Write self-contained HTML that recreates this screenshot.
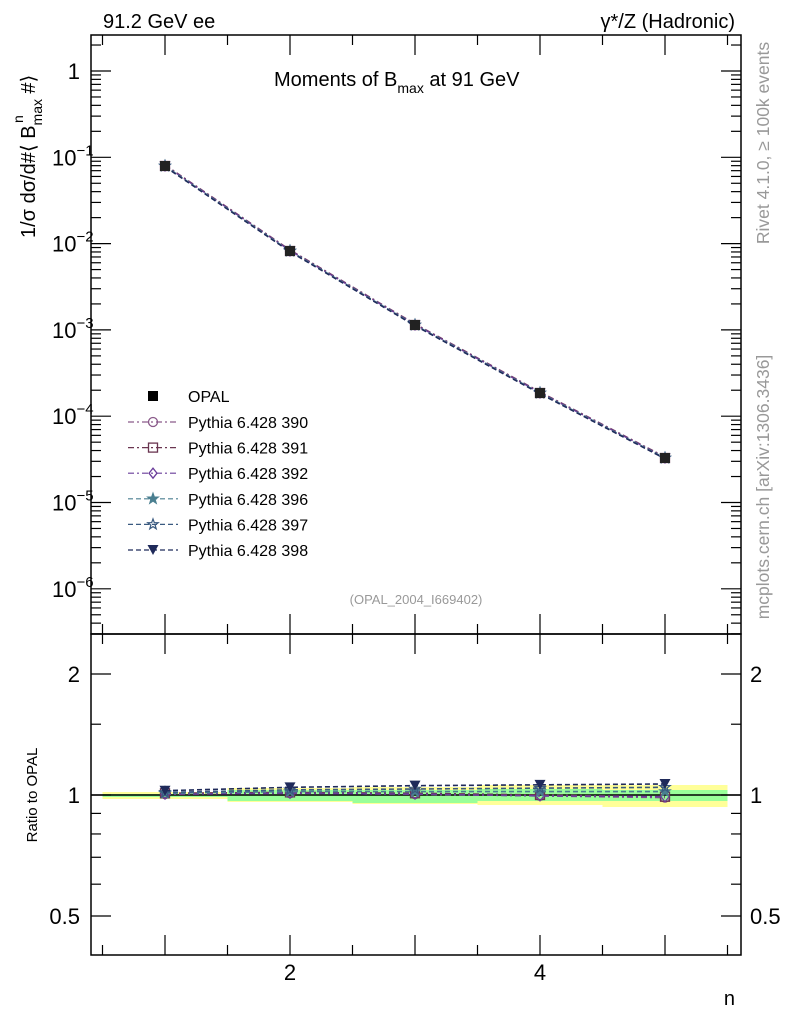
<!DOCTYPE html>
<html><head><meta charset="utf-8"><style>
html,body{margin:0;padding:0;background:#fff;}
svg{display:block;font-family:"Liberation Sans",sans-serif;}
</style></head><body>
<svg id="s" width="786" height="1024" xmlns="http://www.w3.org/2000/svg">
<rect width="786" height="1024" fill="#fff"/>
<g id="bands"></g>
<g id="ticks" stroke="#000" stroke-width="1.2"></g>
<rect x="91" y="35" width="650" height="599" fill="none" stroke="#000" stroke-width="1.5"/>
<rect x="91" y="634" width="650" height="321" fill="none" stroke="#000" stroke-width="1.5"/>
<line x1="91" y1="795" x2="741" y2="795" stroke="#000" stroke-width="1.5"/>
<g id="series"></g>
<text x="103" y="28" font-size="20">91.2 GeV ee</text>
<text x="735" y="28" font-size="20" text-anchor="end">γ*/Z (Hadronic)</text>
<text x="274" y="86" font-size="20">Moments of B<tspan font-size="14" dy="7">max</tspan><tspan dy="-7"> at 91 GeV</tspan></text>
<text x="416" y="604" font-size="13" fill="#999" text-anchor="middle">(OPAL_2004_I669402)</text>
<text transform="translate(769,143) rotate(-90)" font-size="17.5" fill="#999" text-anchor="middle">Rivet 4.1.0, ≥ 100k events</text>
<text transform="translate(769,487) rotate(-90)" font-size="17.5" fill="#999" text-anchor="middle">mcplots.cern.ch [arXiv:1306.3436]</text>
<text transform="translate(35,238) rotate(-90)" font-size="20">1/σ   dσ/d#⟨ B<tspan font-size="14" dy="7">max</tspan><tspan font-size="14" dx="-24" dy="-19">n</tspan><tspan dy="12" dx="16">  #⟩</tspan></text>
<text transform="translate(37,795) rotate(-90)" font-size="15" text-anchor="middle">Ratio to OPAL</text>
<text x="735" y="1005" font-size="20" text-anchor="end">n</text>
<g id="labels" font-size="22"></g>
<g id="legend" font-size="16"></g>
</svg>
<script>
const NS="http://www.w3.org/2000/svg";
function el(p,t,a,txt){const e=document.createElementNS(NS,t);for(const k in a)e.setAttribute(k,a[k]);if(txt!==undefined)e.innerHTML=txt;document.getElementById(p).appendChild(e);return e;}
const X=n=>165+125*(n-1);
const Ym=v=>71-86.3*Math.log10(v);
const Yr=r=>795-402*Math.log10(r);
const yb=[[792,799,794,797],[788,802,790,801],[787,804,790,803],[785,805,789,801],[785,807,790,801]];
yb.forEach((b,i)=>{const x0=X(i+0.5),x1=X(i+1.5);
el("bands","rect",{x:x0,y:b[0],width:x1-x0,height:b[1]-b[0],fill:"#ffff99"});
el("bands","rect",{x:x0,y:b[2],width:x1-x0,height:b[3]-b[2],fill:"#99ff99"});});
for(let d=0;d>=-7;d--){for(let m=1;m<10;m++){const y=Ym(m*Math.pow(10,d));if(y<35||y>634)continue;const L=m==1?20:10;
el("ticks","line",{x1:91,y1:y,x2:91+L,y2:y});el("ticks","line",{x1:741,y1:y,x2:741-L,y2:y});}}
for(let n=0.5;n<=5.5;n+=0.5){const x=X(n);if(x<91||x>741)continue;const maj=Number.isInteger(n);const L=maj?20:10;
[[35,1],[634,-1],[634,1],[955,-1]].forEach(([y,s])=>el("ticks","line",{x1:x,y1:y,x2:x,y2:y+s*L}));}
[0.5,1,2].forEach(r=>{const y=Yr(r);el("ticks","line",{x1:91,y1:y,x2:111,y2:y});el("ticks","line",{x1:741,y1:y,x2:721,y2:y});});
[0.6,0.7,0.8,0.9,1.5].forEach(r=>{const y=Yr(r);el("ticks","line",{x1:91,y1:y,x2:101,y2:y});el("ticks","line",{x1:741,y1:y,x2:731,y2:y});});
el("labels","text",{x:80,y:79,"text-anchor":"end"},"1");
for(let d=1;d<=6;d++){el("labels","text",{x:52,y:Ym(Math.pow(10,-d))+8},'10<tspan font-size="15" dy="-10">−'+d+'</tspan>');}
[[0.5,"0.5"],[1,"1"],[2,"2"]].forEach(([r,t])=>{const y=Yr(r)+8;el("labels","text",{x:80,y:y,"text-anchor":"end"},t);el("labels","text",{x:750,y:y},t);});
el("labels","text",{x:X(2),y:980,"text-anchor":"middle"},"2");
el("labels","text",{x:X(4),y:980,"text-anchor":"middle"},"4");
const yMain=[166,251,325,393,458];
const S=[
{c:"#8a5a8a",m:"circle",dash:"6,3,2,3",r:[1.005,1.01,1.005,0.995,0.985],lab:"Pythia 6.428 390"},
{c:"#6a3550",m:"square",dash:"6,3,2,3",r:[1.01,1.015,1.01,1.0,0.99],lab:"Pythia 6.428 391"},
{c:"#6a3d9a",m:"diamond",dash:"6,3,2,3",r:[1.005,1.01,1.005,0.995,0.99],lab:"Pythia 6.428 392"},
{c:"#4a7f90",m:"star",dash:"5,3",r:[1.01,1.02,1.02,1.02,1.02],lab:"Pythia 6.428 396"},
{c:"#3a5a80",m:"ostar",dash:"5,3",r:[1.015,1.03,1.035,1.04,1.045],lab:"Pythia 6.428 397"},
{c:"#1f2a5a",m:"tri",dash:"5,3",r:[1.025,1.045,1.055,1.06,1.065],lab:"Pythia 6.428 398"}];
function mark(p,m,x,y,c){
 if(m=="circle")el(p,"circle",{cx:x,cy:y,r:4.5,fill:"none",stroke:c,"stroke-width":1.3});
 else if(m=="square")el(p,"rect",{x:x-4.5,y:y-4.5,width:9,height:9,fill:"none",stroke:c,"stroke-width":1.3});
 else if(m=="diamond")el(p,"polygon",{points:`${x},${y-5} ${x+4},${y} ${x},${y+5} ${x-4},${y}`,fill:"none",stroke:c,"stroke-width":1.3});
 else if(m=="star"||m=="ostar"){let pts=[];for(let i=0;i<10;i++){const a=-Math.PI/2+i*Math.PI/5,R=i%2?2.2:5.5;pts.push((x+R*Math.cos(a)).toFixed(1)+","+(y+R*Math.sin(a)).toFixed(1));}
  el(p,"polygon",{points:pts.join(" "),fill:m=="star"?c:"none",stroke:c,"stroke-width":1.2});}
 else if(m=="tri")el(p,"polygon",{points:`${x-5.5},${y-5} ${x+5.5},${y-5} ${x},${y+5}`,fill:c});
 else if(m=="fsq")el(p,"rect",{x:x-5,y:y-5,width:10,height:10,fill:c});
}
S.forEach((s,k)=>{
 const pm=yMain.map((y,i)=>X(i+1)+","+(y+(k-3)*0.4)).join(" ");
 el("series","polyline",{points:pm,fill:"none",stroke:s.c,"stroke-width":1.4,"stroke-dasharray":s.dash});
 const pr=s.r.map((r,i)=>X(i+1)+","+Yr(r)).join(" ");
 el("series","polyline",{points:pr,fill:"none",stroke:s.c,"stroke-width":1.6,"stroke-dasharray":s.dash});
 yMain.forEach((y,i)=>mark("series",s.m,X(i+1),y,s.c));
 s.r.forEach((r,i)=>mark("series",s.m,X(i+1),Yr(r),s.c));
 const ly=422+k*25.6;
 el("legend","line",{x1:128,y1:ly,x2:178,y2:ly,stroke:s.c,"stroke-width":1.2,"stroke-dasharray":s.dash});
 mark("legend",s.m,153,ly,s.c);
 el("legend","text",{x:188,y:ly+6},s.lab);
});
yMain.forEach((y,i)=>{mark("series","fsq",X(i+1),y,"#222");});
mark("legend","fsq",153,396,"#000");
el("legend","text",{x:188,y:402},"OPAL");
</script>
</body></html>
